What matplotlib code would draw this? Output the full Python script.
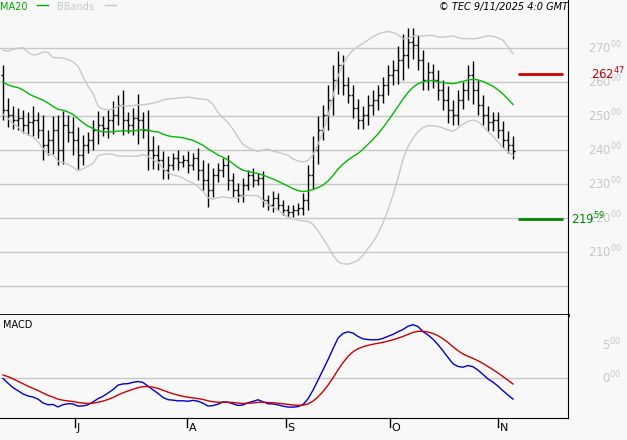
import numpy as np
import pandas as pd
import matplotlib
matplotlib.use("Agg")
import matplotlib.pyplot as plt

pre_closes = [255,262,268,270,265,258,262,266,259,255,262,268,264,258,254,260,265,258,252,256,
              258,262,266,263,259,262]
closes = [251.8,250.3,248.8,249.4,247.4,248.2,248.8,245.9,241.5,242.9,245.9,240.0,247.4,245.3,242.9,
          238.5,241.5,242.9,245.9,247.4,246.5,248.8,250.3,253.2,248.8,247.4,249.4,248.8,245.9,
          240.0,238.5,237.1,234.1,235.6,237.6,236.5,237.1,235.6,237.6,234.1,231.2,228.2,232.6,
          234.1,235.6,231.2,228.2,226.8,229.7,232.6,231.2,231.8,225.3,223.8,225.9,223.8,222.4,
          221.8,222.4,223.0,225.3,232.6,240.0,245.9,250.3,254.7,260.6,265.0,259.1,256.2,252.4,
          248.8,250.3,253.2,254.7,256.2,259.1,262.1,263.5,266.5,268.0,271.8,270.9,266.5,260.6,
          262.9,260.6,257.6,254.7,251.8,250.3,254.7,257.6,262.1,257.6,253.2,250.3,248.2,248.8,
          245.9,243.0,241.5,239.8]
ranges = [6,7,5,6,5,6,8,5,9,6,8,9,8,6,9,8,6,5,6,8,5,6,8,6,9,5,6,14,5,12,8,6,5,5,3,5,3,5,3,6,
          6,10,4,4,4,6,4,4,4,3,4,3,4,3,4,3,3,3,3,3,4,6,8,8,6,9,9,8,6,5,6,5,5,6,6,6,5,6,6,8,12,8,
          8,6,6,6,5,6,6,8,6,6,5,6,8,6,6,5,5,5,5,5,5]
month_labels = ["J", "A", "S", "O", "N"]
month_pos = [14.4, 36.8, 56.6, 77.4, 99.0]
resist, support = 262.47, 219.59

bg = "#f8f8f8"
fig = plt.figure(figsize=(6.27, 4.4), dpi=100, facecolor=bg)
W, H = 627, 440
ax = fig.add_axes([0, 1 - 315/H, 568/W, 315/H], facecolor=bg)
ax2 = fig.add_axes([0, 1 - 418/H, 568/W, 103/H], facecolor=bg)

allc = pd.Series(pre_closes + closes)
npre = len(pre_closes)
ma = allc.rolling(20).mean()
sd = allc.rolling(20).std()
up, lo = ma + 2*sd, ma - 2*sd
n = len(closes)
x = np.arange(n)
sl = slice(npre, npre + n)

opens = [pre_closes[-1]] + closes[:-1]
for i in range(n):
    r = ranges[i]
    hi = max(opens[i], closes[i]) + r/2
    lw = min(opens[i], closes[i]) - r/2
    ax.vlines(x[i], lw, hi, color="black", lw=1)
    ax.hlines(opens[i], x[i]-0.4, x[i], color="black", lw=1)
    ax.hlines(closes[i], x[i], x[i]+0.4, color="black", lw=1)

ax.plot(x, ma.values[sl], color="#00bb00", lw=1)
ax.plot(x, up.values[sl], color="#c8c8c8", lw=1)
ax.plot(x, lo.values[sl], color="#c8c8c8", lw=1)

xl = (-0.6, 568/5 - 0.6)
ax.set_xlim(*xl)
ax.set_ylim(191.5, 284.1)
for g in range(200, 280, 10):
    ax.axhline(g, color="#c8c8c8", lw=1, zorder=0)
ax.hlines(resist, 103, 112, color="#cc0000", lw=2)
ax.hlines(support, 103, 112, color="#008800", lw=2)
for spine in ["left", "top"]:
    ax.spines[spine].set_visible(False)
ax.spines["bottom"].set_linewidth(2)
ax.set_xticks([])
ax.set_yticks([])
for g in range(210, 280, 10):
    ax.text(1.035, (g - 191.5)/(284.1-191.5), f"{g}$^{{00}}$", transform=ax.transAxes,
            color="#c8c8c8", fontsize=8.5, va="center", ha="left")
ax.text(1.04, (resist - 191.5)/(284.1-191.5), "262$^{47}$", transform=ax.transAxes,
        color="#cc0000", fontsize=8.5, va="center")
ax.text(1.005, (support - 191.5)/(284.1-191.5), "219$^{59}$", transform=ax.transAxes,
        color="#008800", fontsize=8.5, va="center")
ax.text(0.0, 0.995, "MA20", transform=ax.transAxes, color="#00aa00", fontsize=7, va="top")
ax.plot([0.065, 0.085], [0.985, 0.985], transform=ax.transAxes, color="#00aa00", lw=1)
ax.text(0.10, 0.995, "BBands", transform=ax.transAxes, color="#c8c8c8", fontsize=7, va="top")
ax.plot([0.185, 0.205], [0.985, 0.985], transform=ax.transAxes, color="#c8c8c8", lw=1)
ax.text(1.0, 0.995, "© TEC 9/11/2025 4:0 GMT", transform=ax.transAxes, fontsize=7,
        style="italic", ha="right", va="top")

e12 = allc.ewm(span=12, adjust=False).mean()
e26 = allc.ewm(span=26, adjust=False).mean()
macd = e12 - e26
sig = macd.ewm(span=9, adjust=False).mean()
ax2.plot(x, macd.values[sl], color="#0000cc", lw=1)
ax2.plot(x, sig.values[sl], color="#cc0000", lw=1)
ax2.set_xlim(*xl)
ax2.axhline(0, color="#c8c8c8", lw=1, zorder=0)
ylo, yhi = -6.0, 9.5
ax2.set_ylim(ylo, yhi)
ax2.set_yticks([])
ax2.set_xticks([])
ax2.spines["left"].set_visible(False)
ax2.spines["top"].set_visible(False)
ax2.text(0.005, 0.95, "MACD", transform=ax2.transAxes, fontsize=7, va="top")
for v, s in [(5, "5$^{00}$"), (0, "0$^{00}$")]:
    ax2.text(1.06, (v - ylo)/(yhi - ylo), s, transform=ax2.transAxes, color="#c8c8c8", fontsize=8.5, va="center")
for p, l in zip(month_pos, month_labels):
    ax2.plot([p, p], [0, -0.09], transform=ax2.get_xaxis_transform(), color="black", lw=1, clip_on=False)
    ax2.text(p + 0.3, -0.05, l, transform=ax2.get_xaxis_transform(), fontsize=8, va="top")

fig.savefig("out.png", dpi=100, facecolor=bg)
